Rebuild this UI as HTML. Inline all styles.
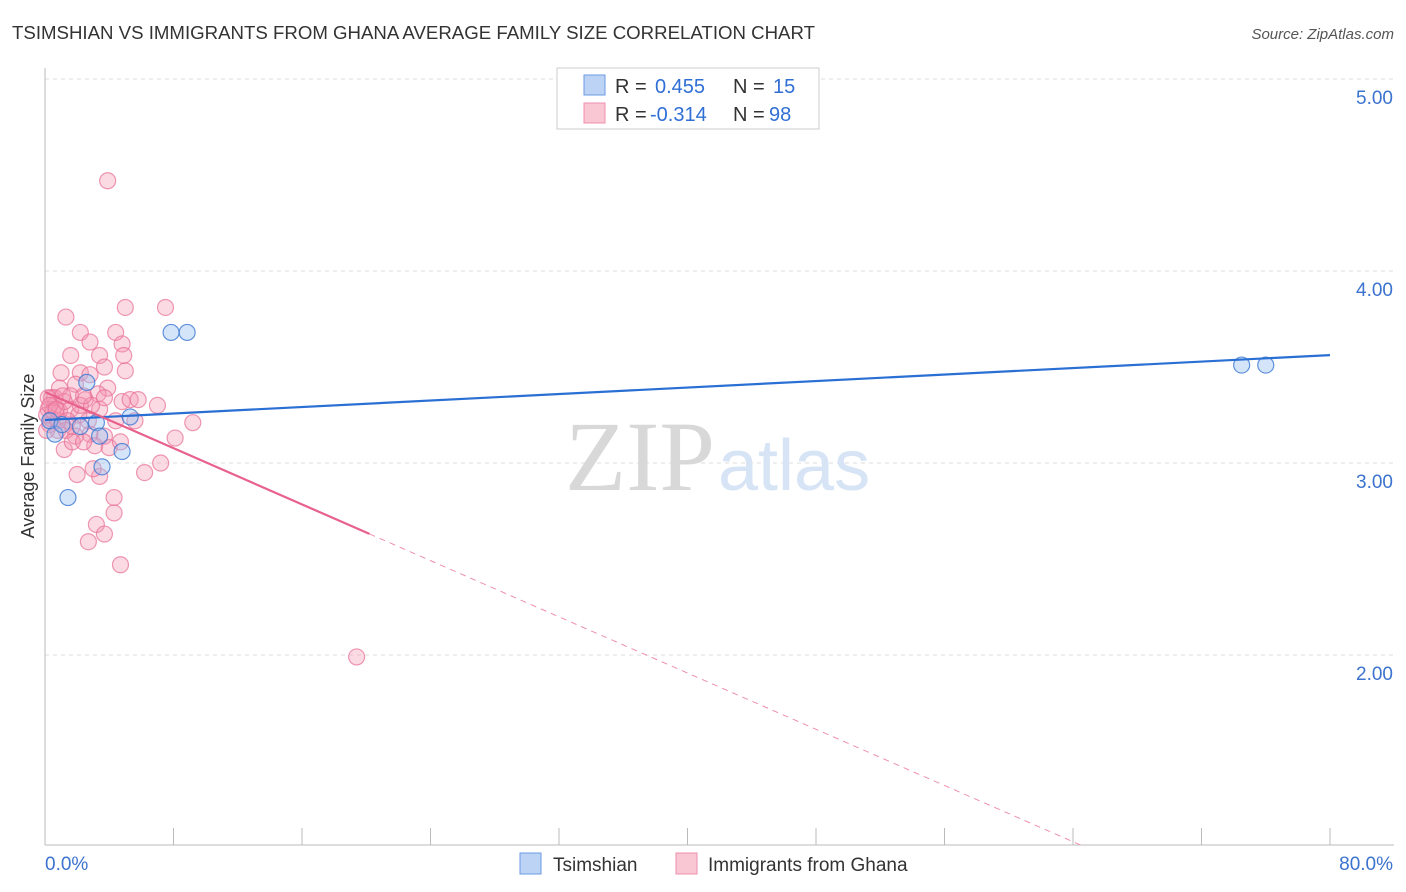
<!DOCTYPE html>
<html><head><meta charset="utf-8"><style>
body{margin:0;background:#fff;font-family:"Liberation Sans",sans-serif}
</style></head><body>
<svg width="1406" height="892" viewBox="0 0 1406 892" style="display:block">
<text x="12" y="39" font-size="18" fill="#333" textLength="803" lengthAdjust="spacingAndGlyphs">TSIMSHIAN VS IMMIGRANTS FROM GHANA AVERAGE FAMILY SIZE CORRELATION CHART</text>
<text x="1394" y="39" font-size="15" fill="#555" font-style="italic" text-anchor="end">Source: ZipAtlas.com</text>
<g id="grid"></g>
<g id="axes"></g>
<text x="715" y="490" font-size="100" fill="#d8d8d8" text-anchor="end" font-family="Liberation Serif">ZIP</text>
<text x="718" y="490" font-size="72" fill="#d6e4f5">atlas</text>
<g id="marks"></g>
<g font-size="20" fill="#333">
<rect x="557" y="68" width="262" height="61" fill="#fff" stroke="#ccc"/>
<rect x="584" y="75" width="21" height="20" fill="#bcd3f5" stroke="#6a9be0"/>
<text x="615" y="93">R =</text><text x="655" y="93" fill="#2f6fd6">0.455</text>
<text x="733" y="93">N =</text><text x="773" y="93" fill="#2f6fd6">15</text>
<rect x="584" y="103" width="21" height="20" fill="#f9c6d4" stroke="#ee8fab"/>
<text x="615" y="121">R =</text><text x="650" y="121" fill="#2f6fd6">-0.314</text>
<text x="733" y="121">N =</text><text x="769" y="121" fill="#2f6fd6">98</text>
</g>
<g>
<rect x="520" y="853" width="21" height="21" fill="#bcd3f5" stroke="#6a9be0"/>
<text x="553" y="871" font-size="19" fill="#333">Tsimshian</text>
<rect x="676" y="853" width="21" height="21" fill="#f9c6d4" stroke="#ee8fab"/>
<text x="708" y="871" font-size="19" fill="#333">Immigrants from Ghana</text>
</g>
<text transform="translate(34,456) rotate(-90)" font-size="18" fill="#333" text-anchor="middle">Average Family Size</text>
</svg>
<script>
const yTicks=[5,4,3,2];
const yTickLabels=["5.00","4.00","3.00","2.00"];
const xTicks=[0,8,16,24,32,40,48,56,64,72,80];
const blueX=[0.62,1.43,2.6,3.2,3.55,4.8,5.3,7.85,8.85,74.5,76.0,0.3,1.06,2.2,3.4];
const blueY=[3.15,2.82,3.42,3.21,2.98,3.06,3.24,3.68,3.68,3.51,3.51,3.22,3.20,3.19,3.14];
const pinkX=[3.9,1.3,5.0,7.5,2.2,4.4,2.8,4.8,1.6,3.4,4.9,1.0,2.2,5.0,2.8,3.7,0.9,1.9,3.9,3.3,1.6,2.5,4.8,7.0,0.4,0.6,0.2,0.9,1.6,2.1,3.4,4.4,5.6,9.2,0.3,0.8,1.7,2.8,3.7,8.1,1.2,3.1,4.0,7.2,6.2,2.0,3.4,3.0,4.3,4.3,3.2,2.7,3.7,4.7,19.4,0.1,0.1,0.4,0.6,1.2,1.4,0.8,0.5,1.1,2.2,2.9,2.7,1.9,5.3,3.7,2.4,0.2,0.3,0.7,1.3,1.7,2.4,4.7,5.8];
const pinkY=[4.47,3.76,3.81,3.81,3.68,3.68,3.63,3.62,3.56,3.56,3.56,3.47,3.47,3.48,3.46,3.5,3.39,3.41,3.39,3.36,3.35,3.33,3.32,3.3,3.34,3.3,3.28,3.27,3.28,3.25,3.28,3.22,3.22,3.21,3.2,3.17,3.19,3.15,3.14,3.13,3.07,3.09,3.08,3.0,2.95,2.94,2.93,2.97,2.82,2.74,2.68,2.59,2.63,2.47,1.99,3.25,3.17,3.23,3.34,3.32,3.22,3.22,3.27,3.35,3.3,3.3,3.22,3.14,3.33,3.34,3.35,3.34,3.3,3.28,3.17,3.11,3.11,3.11,3.33];
const blueFit=[3.224,3.562];
const pinkFit=[3.37,-0.0366];
const NS="http://www.w3.org/2000/svg";
const X=v=>45+v*(1285/80), Y=v=>463-(v-3)*192;
function mk(p,t,a){const e=document.createElementNS(NS,t);for(const k in a)e.setAttribute(k,a[k]);p.appendChild(e);return e;}
const grid=document.getElementById('grid'),axes=document.getElementById('axes'),marks=document.getElementById('marks');
yTicks.forEach((t,i)=>{
 const l=mk(grid,'line',{x1:45,x2:1394,y1:Y(t),y2:Y(t),stroke:'#ddd','stroke-dasharray':'4,4'});
 
 
 const tx=mk(axes,'text',{x:1393,y:Y(t)+25,'font-size':19,fill:'#3b73cf','text-anchor':'end'});
 tx.textContent=yTickLabels[i];
 
 
});
mk(axes,'line',{x1:45,x2:45,y1:68,y2:845,stroke:'#bbb'});
mk(axes,'line',{x1:45,x2:1394,y1:845,y2:845,stroke:'#bbb'});
xTicks.forEach(v=>{const t=mk(axes,'line',{x1:X(v),x2:X(v),y1:828,y2:845,stroke:'#bbb'});
 
 });
let t0=mk(axes,'text',{x:45,y:870,'font-size':19,fill:'#3b73cf'});t0.textContent='0.0%';

let t1=mk(axes,'text',{x:1393,y:870,'font-size':19,fill:'#3b73cf','text-anchor':'end'});t1.textContent='80.0%';

pinkX.forEach((x,i)=>{const c=mk(marks,'circle',{cx:X(x),cy:Y(pinkY[i]),r:8,fill:'rgba(244,150,178,0.35)',stroke:'rgba(232,110,148,0.7)','stroke-width':1.2});
 
 });
blueX.forEach((x,i)=>{const c=mk(marks,'circle',{cx:X(x),cy:Y(blueY[i]),r:8,fill:'rgba(150,190,240,0.4)',stroke:'rgba(60,120,210,0.8)','stroke-width':1.2});
 
 });
let bl=mk(marks,'line',{x1:X(0),y1:Y(blueFit[0]),x2:X(80),y2:Y(blueFit[1]),stroke:'#2a6fd4','stroke-width':2.2});

const pe=(1-pinkFit[0])/pinkFit[1];
let pl=mk(marks,'line',{x1:X(0),y1:Y(pinkFit[0]),x2:X(20.2),y2:Y(pinkFit[0]+pinkFit[1]*20.2),stroke:'#e8608c','stroke-width':2.2});

let pd=mk(marks,'line',{x1:X(20.2),y1:Y(pinkFit[0]+pinkFit[1]*20.2),x2:X(pe),y2:Y(1),stroke:'#ee8fab','stroke-width':1,'stroke-dasharray':'6,5'});

</script>
</body></html>
